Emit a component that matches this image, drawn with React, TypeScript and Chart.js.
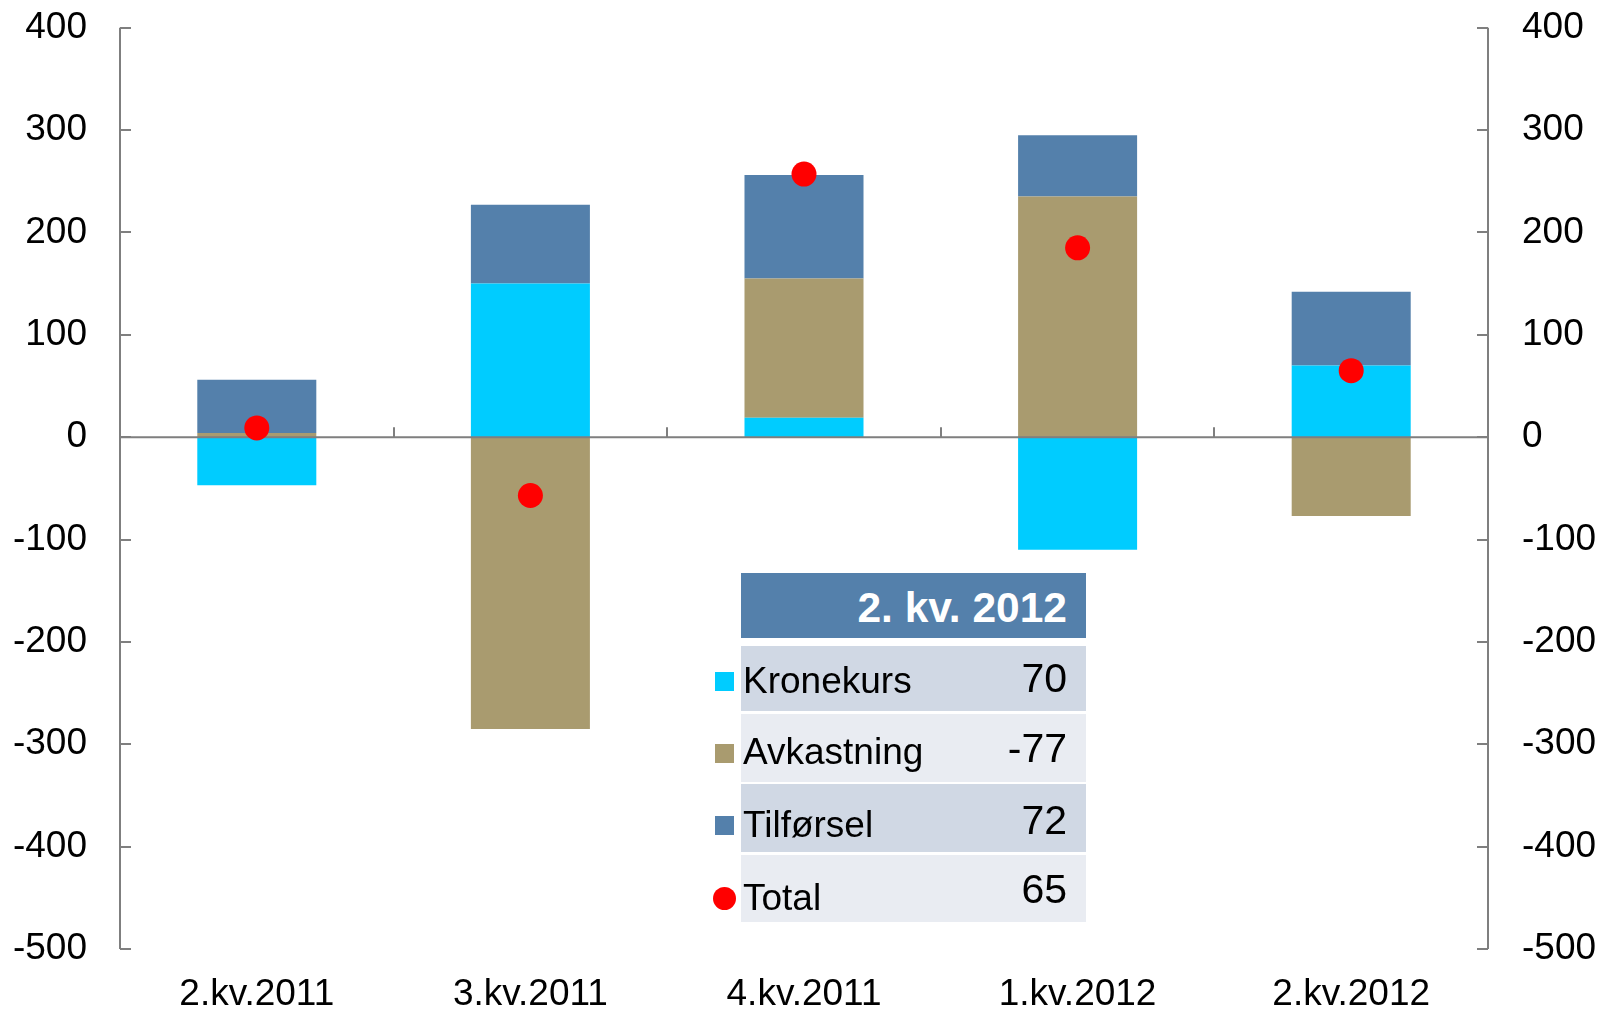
import React, { useEffect, useRef } from "react";
import { Chart, registerables } from "chart.js";

Chart.register(...registerables);

const categories = ["2.kv.2011", "3.kv.2011", "4.kv.2011", "1.kv.2012", "2.kv.2012"];
const kronekurs = [-47, 150, 19, -110, 70];
const avkastning = [4, -285, 136, 235, -77];
const tilforsel = [52, 77, 101, 60, 72];
const total = [9, -57, 257, 185, 65];

const yMin = -500;
const yMax = 400;
const yStep = 100;

const seriesNames = ["Kronekurs", "Avkastning", "Tilførsel", "Total"];
const tableTitle = "2. kv. 2012";
const tableValues = [kronekurs[4], avkastning[4], tilforsel[4], total[4]];

const FONT = "'Liberation Sans', Arial, sans-serif";
const C_KRONE = "#00CCFF";
const C_AVK = "#A99B6F";
const C_TILF = "#5480AB";
const C_TOTAL = "#FF0000";
const AXIS = "#7F7F7F";

const axesPlugin = {
  id: "customAxes",
  beforeDatasetDraw(chart: any, args: any) {
    if (args.index !== 3) return;
    const { ctx, chartArea } = chart;
    const { left, right } = chartArea;
    const y = chart.scales.y;
    const x = chart.scales.x;
    const top = y.getPixelForValue(yMax);
    const bottom = y.getPixelForValue(yMin);
    ctx.save();
    ctx.strokeStyle = AXIS;
    ctx.lineWidth = 2;
    ctx.beginPath();
    ctx.moveTo(left, top);
    ctx.lineTo(left, bottom);
    ctx.moveTo(right, top);
    ctx.lineTo(right, bottom);
    y.ticks.forEach((t: any) => {
      const py = Math.round(y.getPixelForValue(t.value));
      ctx.moveTo(left, py);
      ctx.lineTo(left + 11, py);
      ctx.moveTo(right, py);
      ctx.lineTo(right - 11, py);
    });
    const py0 = y.getPixelForValue(0);
    ctx.moveTo(left, py0);
    ctx.lineTo(right, py0);
    for (let i = 1; i < categories.length; i++) {
      const px = Math.round((x.getPixelForValue(i - 1) + x.getPixelForValue(i)) / 2);
      ctx.moveTo(px, py0);
      ctx.lineTo(px, py0 - 10);
    }
    ctx.stroke();
    ctx.restore();
  },
};

function App() {
  const ref = useRef<HTMLCanvasElement | null>(null);

  useEffect(() => {
    if (!ref.current) return;
    const tickFont = { family: FONT, size: 37 };
    const chart = new Chart(ref.current, {
      type: "bar",
      data: {
        labels: categories,
        datasets: [
          { type: "bar", label: seriesNames[0], data: kronekurs, backgroundColor: C_KRONE, borderWidth: 0, order: 1, yAxisID: "y" },
          { type: "bar", label: seriesNames[1], data: avkastning, backgroundColor: C_AVK, borderWidth: 0, order: 1, yAxisID: "y" },
          { type: "bar", label: seriesNames[2], data: tilforsel, backgroundColor: C_TILF, borderWidth: 0, order: 1, yAxisID: "y" },
          {
            type: "line",
            label: seriesNames[3],
            data: total,
            showLine: false,
            pointRadius: 12.5,
            pointBackgroundColor: C_TOTAL,
            pointBorderWidth: 0,
            borderColor: C_TOTAL,
            order: 0,
            yAxisID: "y2",
          },
        ] as any,
      },
      options: {
        animation: false,
        responsive: false,
        maintainAspectRatio: false,
        layout: { padding: { top: 27.7, left: 0, right: 0, bottom: 0 } },
        plugins: { legend: { display: false }, tooltip: { enabled: false } },
        datasets: { bar: { categoryPercentage: 1, barPercentage: 0.435 } },
        scales: {
          x: {
            stacked: true,
            grid: { display: false, drawTicks: false },
            border: { display: false },
            ticks: { color: "#000", font: { family: FONT, size: 37 }, padding: 24, maxRotation: 0, autoSkip: false },
            afterFit: (s: any) => {
              s.height = 61;
              s.paddingLeft = 0;
              s.paddingRight = 0;
            },
          },
          y: {
            stacked: true,
            position: "left",
            min: yMin,
            max: yMax,
            grid: { display: false, drawTicks: false },
            border: { display: false },
            ticks: { stepSize: yStep, color: "#000", font: tickFont, padding: 33 },
            afterFit: (s: any) => {
              s.width = 120;
              s.paddingTop = 0;
              s.paddingBottom = 0;
            },
          },
          y2: {
            position: "right",
            min: yMin,
            max: yMax,
            grid: { display: false, drawTicks: false },
            border: { display: false },
            ticks: { stepSize: yStep, color: "#000", font: tickFont, padding: 34 },
            afterFit: (s: any) => {
              s.width = 112;
              s.paddingTop = 0;
              s.paddingBottom = 0;
            },
          },
        },
      } as any,
      plugins: [axesPlugin],
    });
    return () => chart.destroy();
  }, []);

  const rowTops = [646, 714, 784, 855];
  const rowHeights = [65, 68, 68, 67];
  const labelBaselines = [693, 764, 837, 910];
  const valueBaselines = [693, 763, 835, 904];
  const rowBg = ["#D0D8E4", "#E9ECF2", "#D0D8E4", "#E9ECF2"];
  const markerColors = [C_KRONE, C_AVK, C_TILF];
  const markerTops = [672, 744, 816];

  const fs = 37;
  const vfs = 41;
  const hfs = 42.5;

  return (
    <div style={{ position: "fixed", left: 0, top: 0, width: 1600, height: 1010, background: "#fff", overflow: "hidden" }}>
      <canvas ref={ref} width={1600} height={1010} style={{ width: 1600, height: 1010, display: "block" }} />
      <div
        style={{
          position: "absolute",
          left: 741,
          top: 573,
          width: 345,
          height: 65,
          background: C_TILF,
        }}
      />
      <div
        style={{
          position: "absolute",
          right: 1600 - 1067,
          top: 623 - 0.846 * hfs,
          fontFamily: FONT,
          fontWeight: "bold",
          fontSize: hfs,
          lineHeight: hfs + "px",
          color: "#fff",
          whiteSpace: "nowrap",
        }}
      >
        {tableTitle}
      </div>
      {seriesNames.map((name, i) => (
        <React.Fragment key={name}>
          <div
            style={{
              position: "absolute",
              left: 741,
              top: rowTops[i],
              width: 345,
              height: rowHeights[i],
              background: rowBg[i],
            }}
          />
          <div
            style={{
              position: "absolute",
              left: 743,
              top: labelBaselines[i] - 0.846 * fs,
              fontFamily: FONT,
              fontSize: fs,
              lineHeight: fs + "px",
              color: "#000",
              whiteSpace: "nowrap",
            }}
          >
            {name}
          </div>
          <div
            style={{
              position: "absolute",
              right: 1600 - 1067,
              top: valueBaselines[i] - 0.846 * vfs,
              fontFamily: FONT,
              fontSize: vfs,
              lineHeight: vfs + "px",
              color: "#000",
              whiteSpace: "nowrap",
            }}
          >
            {String(tableValues[i])}
          </div>
          {i < 3 ? (
            <div
              style={{
                position: "absolute",
                left: 715,
                top: markerTops[i],
                width: 19,
                height: 19,
                background: markerColors[i],
              }}
            />
          ) : (
            <div
              style={{
                position: "absolute",
                left: 724.5 - 11.5,
                top: 898.5 - 11.5,
                width: 23,
                height: 23,
                borderRadius: "50%",
                background: C_TOTAL,
              }}
            />
          )}
        </React.Fragment>
      ))}
    </div>
  );
}

export default App;
